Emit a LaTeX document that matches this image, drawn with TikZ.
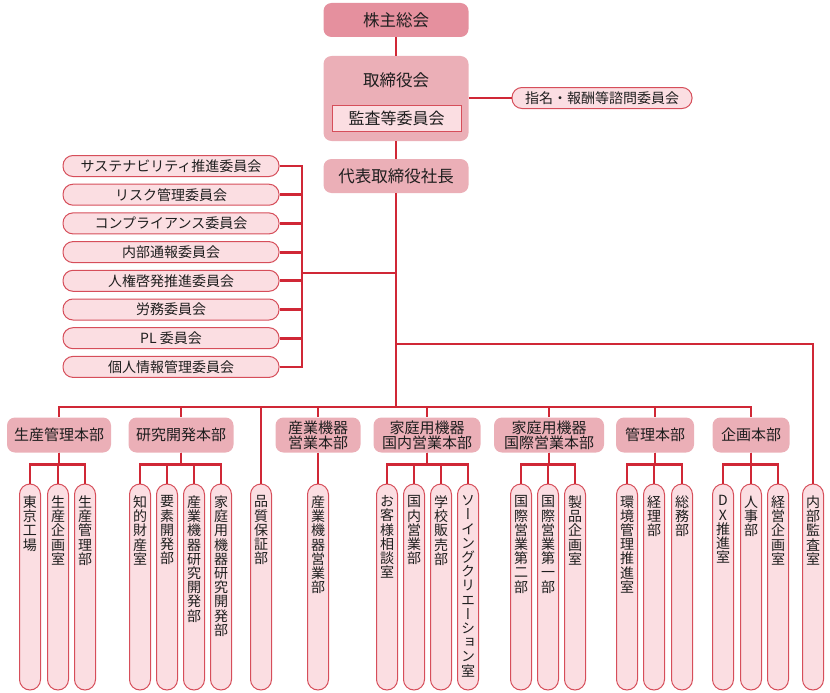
\documentclass[tikz,border=0pt]{standalone}
\usepackage{fontspec}
\setmainfont{Noto Sans CJK JP}
\newfontfamily\tatefont[RawFeature=+vert]{Noto Sans CJK JP}

\definecolor{linered}{RGB}{208,40,54}
\definecolor{pillred}{RGB}{214,78,90}
\definecolor{pillpink}{RGB}{251,222,226}
\definecolor{deptpink}{RGB}{235,175,183}
\definecolor{toppink}{RGB}{229,144,158}
\definecolor{inktext}{RGB}{30,30,30}

\def\tatetext#1{\tatestep#1\relax}
\def\tatestep#1{\ifx\relax#1\else#1\\\expandafter\tatestep\fi}

\tikzstyle{link} = [draw=linered, line width=2.8pt]
\tikzstyle{headbox} = [fill=toppink, rounded corners=8pt, minimum width=145pt, minimum height=34pt, inner sep=0pt, text=inktext, font=\fontsize{16.5}{18}\selectfont]
\tikzstyle{boardbox} = [fill=deptpink, rounded corners=8pt, minimum width=145pt, inner sep=0pt]
\tikzstyle{auditbox} = [draw=pillred, line width=0.9pt, fill=pillpink, minimum width=129pt, minimum height=26pt, inner sep=0pt, text=inktext, font=\fontsize{16}{18}\selectfont]
\tikzstyle{dept} = [fill=deptpink, rounded corners=8pt, minimum height=35pt, inner sep=0pt, align=center, text=inktext, font=\fontsize{15}{15}\selectfont]
\tikzstyle{cmte} = [draw=pillred, fill=pillpink, line width=1pt, rounded corners=10pt, minimum width=216pt, minimum height=21pt, inner sep=0pt, text=inktext, font=\fontsize{14}{15}\selectfont]
\tikzstyle{pill} = [draw=pillred, fill=pillpink, line width=1pt, rounded corners=10.5pt, minimum width=21pt, minimum height=206pt, inner sep=0pt]
\tikzstyle{tate} = [anchor=north, yshift=-12pt, align=center, inner sep=0pt, text=inktext, font=\tatefont\fontsize{14}{14.2}\selectfont]

\begin{document}
\begin{tikzpicture}[x=1pt,y=-1pt]
	\useasboundingbox (0,0) rectangle (830,693);

	\node[headbox] (agm) at (396,20) {株主総会};
	\node[boardbox, minimum height=85pt] (board) at (396,98.5) {};
	\node[inner sep=0pt, text=inktext, font=\fontsize{16.5}{18}\selectfont] (boardt) at (396,80) {取締役会};
	\node[auditbox] (acom) at (396.5,118) {監査等委員会};
	\node[headbox, fill=deptpink] (ceo) at (396,176) {代表取締役社長};
	\node[cmte, minimum width=180pt] (nom) at (602,98) {指名・報酬等諮問委員会};

	\draw[link] (agm.south) -- (board.north);
	\draw[link] (board.south) -- (ceo.north);
	\draw[link] (board.east |- nom.west) -- (nom.west);

	\node[cmte] (c1) at (171,166) {サステナビリティ推進委員会};
	\node[cmte] (c2) at (171,194.7) {リスク管理委員会};
	\node[cmte] (c3) at (171,223.4) {コンプライアンス委員会};
	\node[cmte] (c4) at (171,252.1) {内部通報委員会};
	\node[cmte] (c5) at (171,280.8) {人権啓発推進委員会};
	\node[cmte] (c6) at (171,309.5) {労務委員会};
	\node[cmte] (c7) at (171,338.2) {PL 委員会};
	\node[cmte] (c8) at (171,366.9) {個人情報管理委員会};

	\coordinate (cjoin) at (302,273);
	\coordinate (aud) at (396,344);
	\coordinate (bus) at (396,407);
	\draw[link] (c1.east) -| (cjoin);
	\draw[link] (c2.east) -| (cjoin);
	\draw[link] (c3.east) -| (cjoin);
	\draw[link] (c4.east) -| (cjoin);
	\draw[link] (c5.east) -| (cjoin);
	\draw[link] (c6.east) -| (cjoin);
	\draw[link] (c7.east) -| (cjoin);
	\draw[link] (c8.east) -| (cjoin);
	\draw[link] (cjoin) -- (cjoin -| ceo.south);
	\draw[link] (ceo.south) -- (bus);

	\node[dept, minimum width=104pt] (d1) at (59,435) {生産管理本部};
	\node[dept, minimum width=105pt] (d2) at (181,435) {研究開発本部};
	\node[dept, minimum width=85pt] (d3) at (318,435) {産業機器\\営業本部};
	\node[dept, minimum width=107pt] (d4) at (427,435) {家庭用機器\\国内営業本部};
	\node[dept, minimum width=110pt] (d5) at (549,435) {家庭用機器\\国際営業本部};
	\node[dept, minimum width=78pt] (d6) at (655,435) {管理本部};
	\node[dept, minimum width=77pt] (d7) at (751,435) {企画本部};

	\node[pill] (p11) at (30,587) {};
	\node[pill] (p12) at (58,587) {};
	\node[pill] (p13) at (85,587) {};
	\node[pill] (p21) at (140,587) {};
	\node[pill] (p22) at (167,587) {};
	\node[pill] (p23) at (194,587) {};
	\node[pill] (p24) at (221,587) {};
	\node[pill] (q) at (261,587) {};
	\node[pill] (p31) at (318,587) {};
	\node[pill] (p41) at (387,587) {};
	\node[pill] (p42) at (414,587) {};
	\node[pill] (p43) at (441,587) {};
	\node[pill] (p44) at (468,587) {};
	\node[pill] (p51) at (521,587) {};
	\node[pill] (p52) at (548,587) {};
	\node[pill] (p53) at (575,587) {};
	\node[pill] (p61) at (627,587) {};
	\node[pill] (p62) at (654,587) {};
	\node[pill] (p63) at (682,587) {};
	\node[pill] (p71) at (723,587) {};
	\node[pill] (p72) at (751,587) {};
	\node[pill] (p73) at (778,587) {};
	\node[pill] (ia) at (813,587) {};

	\node[tate] (t11) at (p11.north) {\tatetext{東京工場}};
	\node[tate] (t12) at (p12.north) {\tatetext{生産企画室}};
	\node[tate] (t13) at (p13.north) {\tatetext{生産管理部}};
	\node[tate] (t21) at (p21.north) {\tatetext{知的財産室}};
	\node[tate] (t22) at (p22.north) {\tatetext{要素開発部}};
	\node[tate] (t23) at (p23.north) {\tatetext{産業機器研究開発部}};
	\node[tate] (t24) at (p24.north) {\tatetext{家庭用機器研究開発部}};
	\node[tate] (tq) at (q.north) {\tatetext{品質保証部}};
	\node[tate] (t31) at (p31.north) {\tatetext{産業機器営業部}};
	\node[tate] (t41) at (p41.north) {\tatetext{お客様相談室}};
	\node[tate] (t42) at (p42.north) {\tatetext{国内営業部}};
	\node[tate] (t43) at (p43.north) {\tatetext{学校販売部}};
	\node[tate] (t44) at (p44.north) {\tatetext{ソーイングクリエーション室}};
	\node[tate] (t51) at (p51.north) {\tatetext{国際営業第二部}};
	\node[tate] (t52) at (p52.north) {\tatetext{国際営業第一部}};
	\node[tate] (t53) at (p53.north) {\tatetext{製品企画室}};
	\node[tate] (t61) at (p61.north) {\tatetext{環境管理推進室}};
	\node[tate] (t62) at (p62.north) {\tatetext{経理部}};
	\node[tate] (t63) at (p63.north) {\tatetext{総務部}};
	\node[tate] (t71) at (p71.north) {\tatetext{DX推進室}};
	\node[tate] (t72) at (p72.north) {\tatetext{人事部}};
	\node[tate] (t73) at (p73.north) {\tatetext{経営企画室}};
	\node[tate] (tia) at (ia.north) {\tatetext{内部監査室}};

	\draw[link] (bus) -| (d1.north);
	\draw[link] (bus) -| (d2.north);
	\draw[link] (bus) -| (q.north);
	\draw[link] (bus) -| (d3.north);
	\draw[link] (bus) -| (d4.north);
	\draw[link] (bus) -| (d5.north);
	\draw[link] (bus) -| (d6.north);
	\draw[link] (bus) -| (d7.north);
	\draw[link] (aud) -| (ia.north);

	\draw[link] (d1.south) -- ++(0,12) -| (p11.north);
	\draw[link] (d1.south) -- ++(0,12) -| (p12.north);
	\draw[link] (d1.south) -- ++(0,12) -| (p13.north);
	\draw[link] (d2.south) -- ++(0,12) -| (p21.north);
	\draw[link] (d2.south) -- ++(0,12) -| (p22.north);
	\draw[link] (d2.south) -- ++(0,12) -| (p23.north);
	\draw[link] (d2.south) -- ++(0,12) -| (p24.north);
	\draw[link] (d3.south) -- (p31.north);
	\draw[link] (d4.south) -- ++(0,12) -| (p41.north);
	\draw[link] (d4.south) -- ++(0,12) -| (p42.north);
	\draw[link] (d4.south) -- ++(0,12) -| (p43.north);
	\draw[link] (d4.south) -- ++(0,12) -| (p44.north);
	\draw[link] (d5.south) -- ++(0,12) -| (p51.north);
	\draw[link] (d5.south) -- ++(0,12) -| (p52.north);
	\draw[link] (d5.south) -- ++(0,12) -| (p53.north);
	\draw[link] (d6.south) -- ++(0,12) -| (p61.north);
	\draw[link] (d6.south) -- ++(0,12) -| (p62.north);
	\draw[link] (d6.south) -- ++(0,12) -| (p63.north);
	\draw[link] (d7.south) -- ++(0,12) -| (p71.north);
	\draw[link] (d7.south) -- ++(0,12) -| (p72.north);
	\draw[link] (d7.south) -- ++(0,12) -| (p73.north);
\end{tikzpicture}
\end{document}
